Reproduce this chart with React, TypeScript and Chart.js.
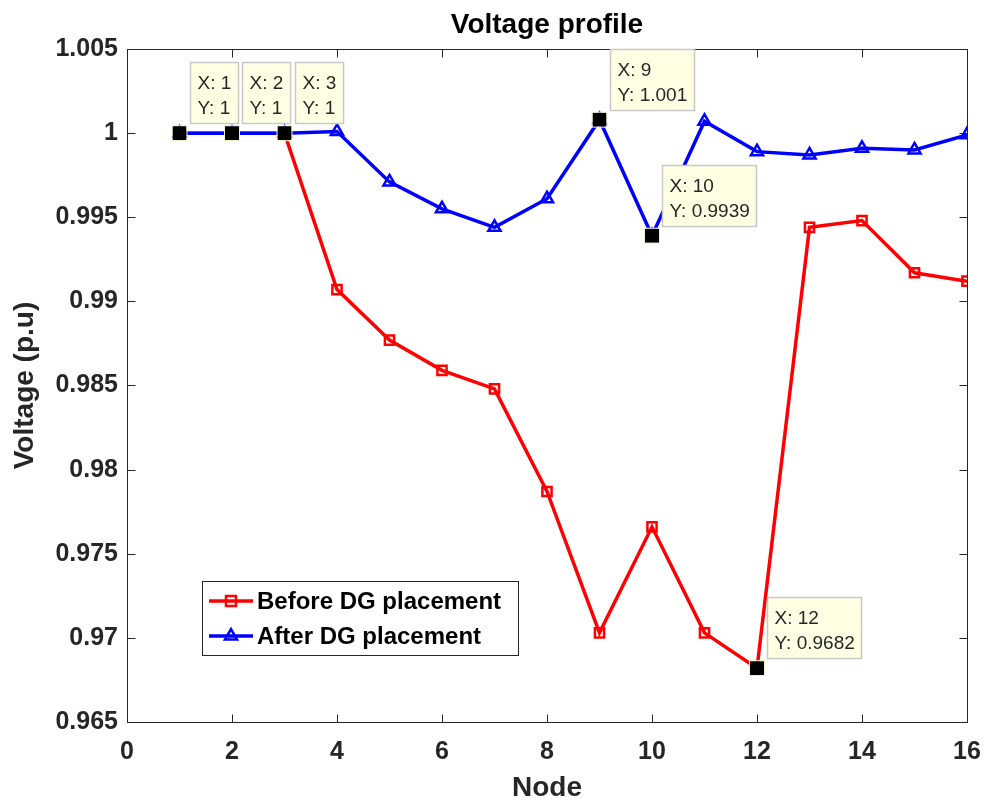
import React, { useEffect, useRef } from 'react';
import { Chart, registerables } from 'chart.js';

Chart.register(...registerables);

const FONT = '"Liberation Sans", Arial, Helvetica, sans-serif';

const chartTitle = 'Voltage profile';
const xAxisTitle = 'Node';
const yAxisTitle = 'Voltage (p.u)';

const nodes = [1, 2, 3, 4, 5, 6, 7, 8, 9, 10, 11, 12, 13, 14, 15, 16];
const beforeDG = [1, 1, 1, 0.9907, 0.9877, 0.9859, 0.9848, 0.9787, 0.9703, 0.9766, 0.9703, 0.9682, 0.9944, 0.9948, 0.9917, 0.9912];
const afterDG = [1, 1, 1, 1.0001, 0.9971, 0.9955, 0.9944, 0.9961, 1.0008, 0.9939, 1.0007, 0.9989, 0.9987, 0.9991, 0.999, 0.9999];

const seriesLabels = ['Before DG placement', 'After DG placement'];
const seriesColors = ['#FF0000', '#0000FF'];

const xTicks = [0, 2, 4, 6, 8, 10, 12, 14, 16];
const yTicks = [0.965, 0.97, 0.975, 0.98, 0.985, 0.99, 0.995, 1, 1.005];

// data tips: [series index, point index]
const tipSeries = [1, 1, 1, 1, 1, 0];
const tipIndex = [0, 1, 2, 8, 9, 11];

const AXIS_COLOR = '#262626';

const framePlugin = {
  id: 'matlabFrame',
  beforeDatasetsDraw(chart: any) {
    const { ctx, chartArea: a, scales } = chart;
    ctx.save();
    ctx.strokeStyle = AXIS_COLOR;
    ctx.lineWidth = 1;
    const L = Math.round(a.left) + 0.5;
    const R = Math.round(a.right) + 0.5;
    const T = Math.round(a.top) + 0.5;
    const B = Math.round(a.bottom) + 0.5;
    ctx.beginPath();
    ctx.rect(L, T, R - L, B - T);
    ctx.stroke();
    const tl = 8;
    ctx.beginPath();
    xTicks.forEach((v) => {
      const px = Math.round(scales.x.getPixelForValue(v)) + 0.5;
      ctx.moveTo(px, B);
      ctx.lineTo(px, B - tl);
      ctx.moveTo(px, T);
      ctx.lineTo(px, T + tl);
    });
    yTicks.forEach((v) => {
      const py = Math.round(scales.y.getPixelForValue(v)) + 0.5;
      ctx.moveTo(L, py);
      ctx.lineTo(L + tl, py);
      ctx.moveTo(R, py);
      ctx.lineTo(R - tl, py);
    });
    ctx.stroke();
    ctx.restore();
  },
};

function drawMarker(ctx: CanvasRenderingContext2D, kind: number, x: number, y: number, color: string) {
  ctx.save();
  ctx.strokeStyle = color;
  ctx.lineWidth = 2.5;
  ctx.beginPath();
  if (kind === 0) {
    const s = 5;
    ctx.rect(x - s, y - s, 2 * s, 2 * s);
  } else {
    const r = 7;
    ctx.moveTo(x, y - r);
    ctx.lineTo(x + r * 0.866, y + r * 0.5);
    ctx.lineTo(x - r * 0.866, y + r * 0.5);
    ctx.closePath();
  }
  ctx.stroke();
  ctx.restore();
}

const overlayPlugin = {
  id: 'matlabOverlay',
  afterDraw(chart: any) {
    const { ctx, chartArea: a } = chart;
    ctx.save();
    // title
    ctx.fillStyle = '#000000';
    ctx.font = `bold 28px ${FONT}`;
    ctx.textAlign = 'center';
    ctx.textBaseline = 'alphabetic';
    ctx.fillText(chartTitle, (a.left + a.right) / 2, 33);

    // legend
    const lx = 202.5, ly = 581.5, lw = 316, lh = 74;
    ctx.fillStyle = '#FFFFFF';
    ctx.fillRect(lx, ly, lw, lh);
    ctx.strokeStyle = AXIS_COLOR;
    ctx.lineWidth = 1;
    ctx.strokeRect(lx, ly, lw, lh);
    const rowsY = [601, 636];
    seriesLabels.forEach((label, i) => {
      const yy = rowsY[i];
      ctx.strokeStyle = seriesColors[i];
      ctx.lineWidth = 3.5;
      ctx.beginPath();
      ctx.moveTo(209, yy);
      ctx.lineTo(253, yy);
      ctx.stroke();
      drawMarker(ctx, i, 231, yy, seriesColors[i]);
      ctx.fillStyle = '#000000';
      ctx.font = `bold 24px ${FONT}`;
      ctx.textAlign = 'left';
      ctx.textBaseline = 'alphabetic';
      ctx.fillText(label, 257, yy + 8);
    });

    // data tips
    tipSeries.forEach((si, k) => {
      const idx = tipIndex[k];
      const el = chart.getDatasetMeta(si).data[idx];
      const px = el.x, py = el.y;
      const data = si === 0 ? beforeDG : afterDG;
      const lines = [`X: ${nodes[idx]}`, `Y: ${Number(data[idx].toPrecision(4))}`];
      ctx.font = `19px ${FONT}`;
      const tw = Math.max(...lines.map((t) => ctx.measureText(t).width));
      const bw = Math.round(tw + 14);
      const bh = 61;
      const bx = Math.round(px + 10) + 0.5;
      const by = Math.round(py - 10 - bh) + 0.5;
      ctx.fillStyle = '#FFFFE4';
      ctx.fillRect(bx, by, bw, bh);
      ctx.strokeStyle = '#C8C8C8';
      ctx.lineWidth = 1.5;
      ctx.strokeRect(bx, by, bw, bh);
      ctx.fillStyle = '#262626';
      ctx.textAlign = 'left';
      ctx.textBaseline = 'alphabetic';
      ctx.fillText(lines[0], bx + 7, by + 26);
      ctx.fillText(lines[1], bx + 7, by + 51);
      // marker
      ctx.fillStyle = '#000000';
      ctx.fillRect(px - 7, py - 7, 14, 14);
      ctx.strokeStyle = '#F2F2C8';
      ctx.lineWidth = 1;
      ctx.strokeRect(px - 7.5, py - 7.5, 15, 15);
    });
    ctx.restore();
  },
};

export default function App() {
  const ref = useRef<HTMLCanvasElement | null>(null);

  useEffect(() => {
    if (!ref.current) return;
    const chart = new Chart(ref.current, {
      type: 'line',
      data: {
        datasets: [
          {
            label: seriesLabels[0],
            data: nodes.map((n, i) => ({ x: n, y: beforeDG[i] })),
            borderColor: seriesColors[0],
            backgroundColor: 'rgba(0,0,0,0)',
            borderWidth: 3.5,
            pointStyle: 'rect',
            pointRadius: 6.5,
            pointBorderWidth: 2.5,
            pointBorderColor: seriesColors[0],
            pointBackgroundColor: 'rgba(0,0,0,0)',
            tension: 0,
            order: 1,
          },
          {
            label: seriesLabels[1],
            data: nodes.map((n, i) => ({ x: n, y: afterDG[i] })),
            borderColor: seriesColors[1],
            backgroundColor: 'rgba(0,0,0,0)',
            borderWidth: 3.5,
            pointStyle: 'triangle',
            pointRadius: 7,
            pointBorderWidth: 2.5,
            pointBorderColor: seriesColors[1],
            pointBackgroundColor: 'rgba(0,0,0,0)',
            tension: 0,
            order: 0,
          },
        ],
      },
      options: {
        animation: false,
        responsive: false,
        events: [],
        layout: { padding: { top: 49, right: 20, left: 0, bottom: 0 } },
        plugins: {
          legend: { display: false },
          title: { display: false },
          tooltip: { enabled: false },
        },
        scales: {
          x: {
            type: 'linear',
            min: 0,
            max: 16,
            afterBuildTicks: (s: any) => {
              s.ticks = xTicks.map((v) => ({ value: v }));
            },
            afterFit: (s: any) => {
              s.height = 83;
              s.paddingLeft = 0;
              s.paddingRight = 0;
            },
            grid: { display: false, drawTicks: false },
            border: { display: false },
            ticks: {
              autoSkip: false,
              maxRotation: 0,
              padding: 15,
              color: AXIS_COLOR,
              font: { family: FONT, size: 25, weight: 'bold' },
              callback: (v: any) => String(v),
            },
            title: {
              display: true,
              text: xAxisTitle,
              color: AXIS_COLOR,
              font: { family: FONT, size: 28, weight: 'bold' },
              padding: { top: 0, bottom: 0 },
            },
          },
          y: {
            type: 'linear',
            min: 0.965,
            max: 1.005,
            afterBuildTicks: (s: any) => {
              s.ticks = yTicks.map((v) => ({ value: v }));
            },
            afterFit: (s: any) => {
              s.width = 127;
              s.paddingTop = 0;
              s.paddingBottom = 0;
            },
            grid: { display: false, drawTicks: false },
            border: { display: false },
            ticks: {
              autoSkip: false,
              padding: 9,
              color: AXIS_COLOR,
              font: { family: FONT, size: 25, weight: 'bold' },
              callback: (v: any) => String(Number(Number(v).toFixed(3))),
            },
            title: {
              display: true,
              text: yAxisTitle,
              color: AXIS_COLOR,
              font: { family: FONT, size: 28, weight: 'bold' },
              padding: { top: 8, bottom: 0 },
            },
          },
        },
      },
      plugins: [framePlugin, overlayPlugin],
    } as any);
    return () => chart.destroy();
  }, []);

  return (
    <div style={{ position: 'absolute', left: 0, top: 0, width: 987, height: 805, background: '#FFFFFF' }}>
      <canvas ref={ref} width={987} height={805} />
    </div>
  );
}
